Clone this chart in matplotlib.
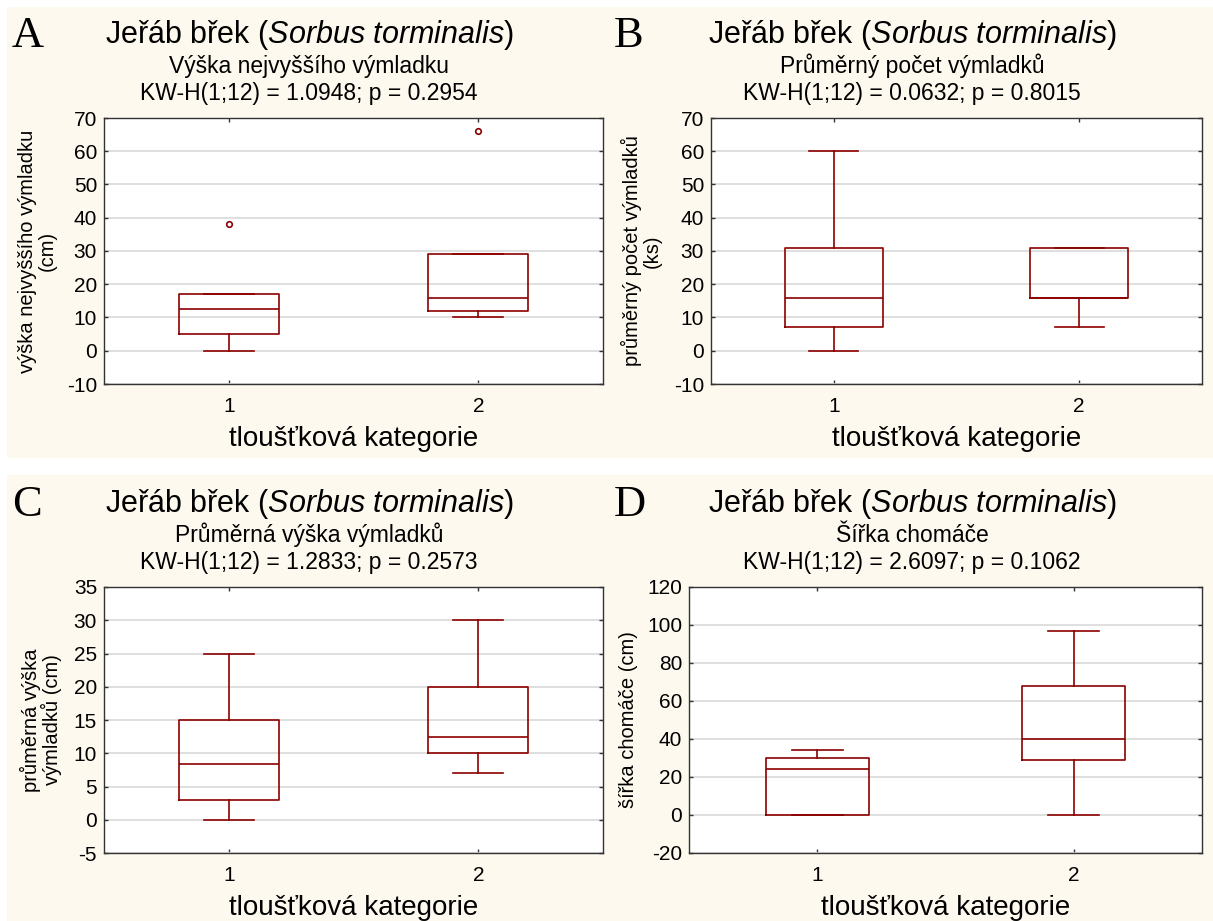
import matplotlib
matplotlib.use("Agg")
import matplotlib.pyplot as plt
from matplotlib.patches import Rectangle

plt.rcParams['font.family'] = ['Liberation Sans', 'DejaVu Sans']
plt.rcParams['mathtext.fontset'] = 'custom'
plt.rcParams['mathtext.rm'] = 'Liberation Sans'
plt.rcParams['mathtext.it'] = 'Liberation Sans:italic'
plt.rcParams['axes.unicode_minus'] = False

BOX_RED = '#8B0000'
PANEL_BG = '#FDF9EE'
GRID_GREY = '#DCDCDC'
SPINE = '#333333'

W, H = 1213, 921

groups = ['1', '2']
species_title = 'Jeřáb břek ($\\mathit{Sorbus\\ torminalis}$)'
x_title = 'tloušťková kategorie'

# --- A: height of the tallest sprout
a_lo = [0, 10]
a_q1 = [5, 12]
a_med = [12.5, 16]
a_q3 = [17, 29]
a_hi = [17, 29]
a_out = [[38], [66]]

# --- B: mean number of sprouts
b_lo = [0, 7]
b_q1 = [7, 16]
b_med = [16, 16]
b_q3 = [31, 31]
b_hi = [60, 31]
b_out = [[], []]

# --- C: mean sprout height
c_lo = [0, 7]
c_q1 = [3, 10]
c_med = [8.4, 12.5]
c_q3 = [15, 20]
c_hi = [25, 30]
c_out = [[], []]

# --- D: clump width
d_lo = [0, 0]
d_q1 = [0, 29]
d_med = [24, 40]
d_q3 = [30, 68]
d_hi = [34, 97]
d_out = [[], []]

panels = [
    dict(letter='A', sub='Výška nejvyššího výmladku',
         kw='KW-H(1;12) = 1.0948; p = 0.2954',
         ylabel='výška nejvyššího výmladku\n(cm)',
         stats=(a_lo, a_q1, a_med, a_q3, a_hi, a_out),
         yticks=range(-10, 71, 10),
         box=(104, 603, 118, 384), col=0, row=0, ylab_x=37),
    dict(letter='B', sub='Průměrný počet výmladků',
         kw='KW-H(1;12) = 0.0632; p = 0.8015',
         ylabel='průměrný počet výmladků\n(ks)',
         stats=(b_lo, b_q1, b_med, b_q3, b_hi, b_out),
         yticks=range(-10, 71, 10),
         box=(711, 1202, 118, 384), col=1, row=0, ylab_x=641),
    dict(letter='C', sub='Průměrná výška výmladků',
         kw='KW-H(1;12) = 1.2833; p = 0.2573',
         ylabel='průměrná výška\nvýmladků (cm)',
         stats=(c_lo, c_q1, c_med, c_q3, c_hi, c_out),
         yticks=range(-5, 36, 5),
         box=(104, 603, 587, 853), col=0, row=1, ylab_x=41),
    dict(letter='D', sub='Šířka chomáče',
         kw='KW-H(1;12) = 2.6097; p = 0.1062',
         ylabel='šířka chomáče (cm)',
         stats=(d_lo, d_q1, d_med, d_q3, d_hi, d_out),
         yticks=range(-20, 121, 20),
         box=(689, 1202, 587, 853), col=1, row=1, ylab_x=628),
]

fig = plt.figure(figsize=(W / 100, H / 100), dpi=100, facecolor='white')

# cream graph windows, one band per row (kept behind the axes)
for top, bottom in [(7, 458), (475, 921)]:
    fig.patches.append(Rectangle((7 / W, 1 - bottom / H), (W - 7) / W, (bottom - top) / H,
                                 transform=fig.transFigure, facecolor=PANEL_BG,
                                 edgecolor='none', zorder=-5))

for p in panels:
    x0, x1, y0, y1 = p['box']
    ax = fig.add_axes([x0 / W, 1 - y1 / H, (x1 - x0) / W, (y1 - y0) / H])
    ax.set_facecolor('white')

    lo, q1, med, q3, hi, out = p['stats']
    stats = [dict(whislo=lo[i], q1=q1[i], med=med[i], q3=q3[i], whishi=hi[i],
                  fliers=out[i], label=groups[i]) for i in range(len(groups))]
    line = dict(color=BOX_RED, linewidth=1.2)
    ax.bxp(stats, positions=[1, 2], widths=0.4, capwidths=0.2,
           boxprops=line, whiskerprops=line, capprops=line, medianprops=line,
           flierprops=dict(marker='o', markersize=4, markerfacecolor='none',
                           markeredgecolor=BOX_RED, markeredgewidth=1.2))

    ax.set_xlim(0.5, 2.5)
    ax.set_yticks(list(p['yticks']))
    ax.set_ylim(p['yticks'][0], p['yticks'][-1])
    ax.yaxis.grid(True, color=GRID_GREY, linewidth=1.3)
    ax.set_axisbelow(True)
    for s in ax.spines.values():
        s.set_color(SPINE)
        s.set_linewidth(1.0)
    ax.tick_params(axis='both', direction='in', length=3, width=1, color=SPINE,
                   top=True, right=True, labelsize=15, labelcolor='black')
    ax.tick_params(axis='y', pad=5)
    ax.tick_params(axis='x', pad=9)

    ax.set_xlabel(x_title, fontsize=20, va='center')
    ax.xaxis.set_label_coords(0.5, -0.205)
    ax.set_ylabel(p['ylabel'], fontsize=14.5, va='center', multialignment='center',
                  linespacing=1.05)
    ax.yaxis.set_label_coords((p['ylab_x'] - x0) / (x1 - x0), 0.5)

    # panel headings, centred on the graph window
    dy = 469 * p['row']
    cx = (309 if p['col'] == 0 else 912) / W
    fig.text((12 if p['col'] == 0 else 614) / W, 1 - (47 + dy) / H, p['letter'],
             family='Liberation Serif', fontsize=32, va='baseline', ha='left')
    fig.text(cx, 1 - (43 + dy) / H, species_title, fontsize=22, ha='center', va='baseline')
    fig.text(cx, 1 - (73 + dy) / H, p['sub'], fontsize=16.5, ha='center', va='baseline')
    fig.text(cx, 1 - (100 + dy) / H, p['kw'], fontsize=16.5, ha='center', va='baseline')

fig.savefig('out.png', dpi=100, facecolor='white')
